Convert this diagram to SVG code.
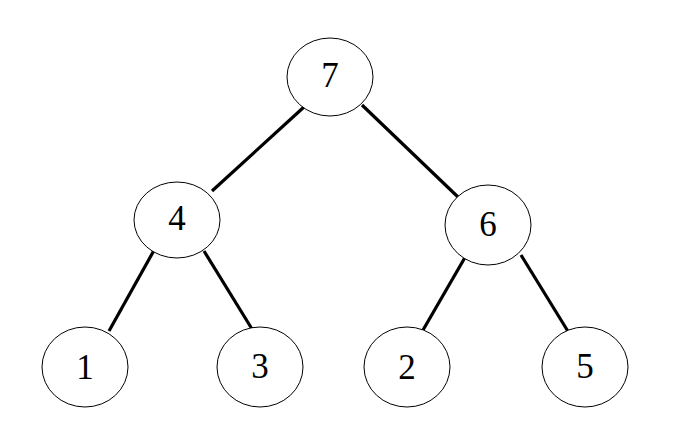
<svg xmlns="http://www.w3.org/2000/svg" width="698" height="432" viewBox="0 0 698 432">
<style>
.n ellipse{fill:#fff;stroke:#000;stroke-width:1}
.n text{font-family:"Liberation Serif","DejaVu Serif",serif;font-size:35px;text-anchor:middle;dominant-baseline:central;fill:#000}
#edges line{stroke:#000;stroke-width:3.2}
</style>
<rect width="698" height="432" fill="#fff"/>
<g id="edges">
<line x1="304" y1="107" x2="212" y2="191"/>
<line x1="362" y1="105" x2="458" y2="197"/>
<line x1="157" y1="245" x2="109" y2="331"/>
<line x1="204" y1="251" x2="252" y2="329"/>
<line x1="467" y1="254" x2="419" y2="337"/>
<line x1="521" y1="255" x2="569" y2="333"/>
</g>
<g id="n7" class="n"><ellipse cx="330" cy="77" rx="43" ry="39"/><text x="330" y="75">7</text></g>
<g id="n4" class="n"><ellipse cx="177" cy="220" rx="43" ry="38"/><text x="177" y="218">4</text></g>
<g id="n6" class="n"><ellipse cx="488" cy="225" rx="43" ry="40"/><text x="488" y="224">6</text></g>
<g id="n1" class="n"><ellipse cx="85" cy="367" rx="43" ry="40"/><text x="85" y="367">1</text></g>
<g id="n3" class="n"><ellipse cx="260" cy="367" rx="43" ry="40"/><text x="260" y="366">3</text></g>
<g id="n2" class="n"><ellipse cx="407" cy="367" rx="43" ry="40"/><text x="407" y="367">2</text></g>
<g id="n5" class="n"><ellipse cx="585" cy="367" rx="43" ry="40"/><text x="585" y="366">5</text></g>
</svg>
